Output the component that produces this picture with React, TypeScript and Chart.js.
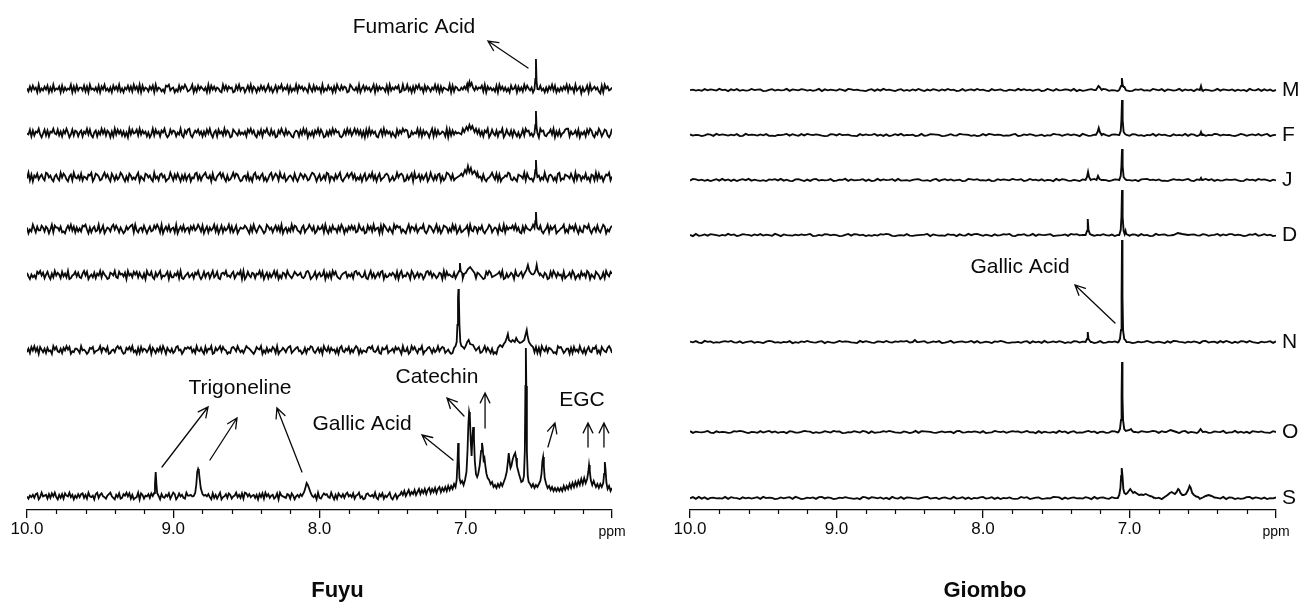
import React, { useEffect, useRef } from 'react';
import { Chart, registerables } from 'chart.js';

Chart.register(...registerables);

const FONT = '"Liberation Sans", Arial, Helvetica, sans-serif';
const INK = '#0a0a0a';

// ---------- axis ----------
const axisMin = 6;
const axisMax = 10;
const majorTickValues = [10, 9, 8, 7, 6];
const majorTickLabels = ['10.0', '9.0', '8.0', '7.0', 'ppm'];
const minorTickValues = [9.8, 9.6, 9.4, 9.2, 8.8, 8.6, 8.4, 8.2, 7.8, 7.6, 7.4, 7.2, 6.8, 6.6, 6.4, 6.2];

// ---------- Fuyu (left) ----------
const fuyuOffsets = [421, 377, 333, 281, 235, 160, 14];
const fuyuNoiseAmp = [0.95, 0.95, 0.95, 0.95, 0.9, 0.85, 0.75];
const fuyuNoise = [
  `5273 8461 9253 7481 6293 5471 8263 5491 7283 6
   6382 7194 5362 8174 9352 6184 7392 5164 8372 9
   4729 1836 5274 8193 6524 1879 3561 4283 7596 2
   3591 6284 7536 1928 4736 5219 4837 5612 8493 6
   6148 3927 5163 8472 5936 1482 7593 6481 7253 9
   2857 3641 9528 3746 1925 3846 1729 5384 7612 9
   7436 2915 8374 6259 1837 4652 8193 6475 8129 3
   4936 1728 5946 1837 5264 9381 7265 4391 8276 3
   3647 5829 1037 4658 2917 4635 2819 4736 2518 4
   5817 3629 4853 6172 9483 5162 7493 8152 6374 9
   2846 1935 7062 4819 3574 6208 1957 3460 8271 5`,
  `4381 7265 9304 8271 6594 3826 1749 5038 2761 5
   7164 9382 0571 6394 8275 0619 3847 2615 0938 4
   5829 3746 1503 9284 6175 9302 8476 1539 2074 8
   9204 7583 6162 8493 0571 8462 9375 0186 4273 5
   3618 5947 2063 8175 9428 3601 7495 2836 4105 7
   6173 9480 5261 7493 8501 6273 9485 6102 7394 8
   2594 8371 6082 9374 6105 8293 7461 5208 3749 6
   8701 6354 9281 7364 0591 8273 4651 9082 7364 5
   4392 8176 5039 4826 1759 0384 2716 5903 8427 1
   7415 0382 9672 4158 3096 7214 5839 0627 1458 9
   9163 4728 0536 1849 7205 3961 4872 0394 6518 2`,
  `3917 0648 2573 1984 6205 7319 4862 0571 9436 2
   8154 2769 0387 5126 9473 0851 6249 7305 1862 4
   2690 5318 7462 0935 1784 6023 9517 3840 6271 5
   7043 8926 1579 4360 8215 7948 3061 2594 8730 1
   5628 1407 9352 6814 0379 2586 1943 7025 6418 3
   0486 3751 2698 5047 1362 9805 4173 6920 3584 7
   9371 4260 5813 7492 6058 1347 8602 5139 4786 0
   1625 8093 4716 2580 3941 6278 0513 9862 7134 5
   6859 2174 0368 9451 7203 4695 2817 0346 5982 1
   4207 6539 1842 3075 8614 2930 6751 4089 1327 6
   5384 0927 6153 8240 7619 2835 0476 9152 3708 4`,
  `6042 9517 3386 2750 4918 6637 1205 8493 7162 5
   2879 4061 5723 9148 0365 2794 8516 3027 4689 1
   9315 6284 0472 3859 6190 4738 2561 9047 3825 6
   1748 3596 2804 7163 5927 0481 6359 2714 8036 5
   5863 0729 4158 6302 9746 1583 7290 4615 2938 7
   3206 8145 9637 0274 5819 3062 8451 7396 0527 4
   8471 2953 6018 4729 3560 8197 4263 0958 6714 2
   0592 7638 1465 9203 8741 5926 0387 6152 9480 3
   7124 5809 3276 1648 2035 9714 6508 3291 7465 8
   4936 1072 8543 5917 6482 0359 1746 8023 5691 4
   1857 3940 6218 7593 0462 8315 9704 2681 5039 7`,
  `7305 2418 6947 1583 0629 4751 8362 9014 5837 2
   1694 8035 2716 4928 5301 7649 2185 6370 9462 8
   5827 3160 9548 2073 6914 3580 7226 4819 1035 7
   2461 7593 0382 6715 9248 1067 5934 2681 4759 0
   9038 4276 1659 3804 7162 5938 0417 6295 3148 6
   4572 1389 6024 8157 3490 6271 9583 1046 7825 3
   6189 5742 3810 5926 1473 8905 2364 7518 0692 4
   3750 9614 7265 0389 5826 4137 6092 8453 2716 9
   8216 0457 5391 7642 0185 9723 4568 3901 6247 5
   0943 6821 4076 2519 8364 2750 1839 6274 5081 3
   4729 6035 1846 2970 5318 6402 7195 3860 2547 1`,
  `2618 4937 0852 6173 4095 8326 1749 5803 2664 1
   9453 0276 8134 5927 6380 1452 7968 3017 5849 2
   4071 8365 2590 7416 3829 5074 2613 8945 0376 8
   6825 1943 7308 2659 0174 6938 5402 1786 3952 4
   1597 6420 3865 9041 7253 8619 0347 5268 9135 7
   8340 2716 5983 1472 6095 3827 4516 0793 2648 1
   5269 7051 4327 8693 2481 0756 9134 6285 7409 3
   3702 9584 1659 0347 8516 2493 6871 3520 1964 7
   7186 3429 0574 6812 5937 4160 2085 9736 4358 0
   0954 8263 7146 3528 1709 5382 7641 2097 8513 6
   6071 8352 9416 0583 2769 1408 5327 9614 0852 3`,
  `4153 6278 0394 5617 2849 3062 7185 4936 0527 3
   7826 1943 5079 2684 3157 9420 6381 2759 4816 0
   2390 8615 4728 1936 5073 2648 1597 0384 6219 5
   5647 3082 9156 4730 8261 5903 4728 6145 9362 8
   1984 7356 2607 3819 4725 6138 0954 3276 1850 4
   6372 0491 8543 6092 1586 7329 4061 8537 2794 6
   3815 6924 0178 5463 9207 4815 3692 0471 5638 2
   9062 4537 1829 7348 0615 2946 7813 5029 4371 9
   0438 1759 6382 0257 8943 1675 2490 7163 8520 6
   8271 5603 3947 1826 5394 0782 6154 3098 7215 3
   2736 9148 5063 2879 1405 6392 8517 0264 3981 5`,
];
// peak groups: [ppm, height above the trace's baseline]
const fuyuPeaks: number[][][][] = [
  [
    [[7.0, 0], [6.99, 5], [6.985, 2], [6.975, 7], [6.97, 3], [6.96, 6], [6.95, 1]],
    [[6.53, 0], [6.524, 10], [6.52, 30], [6.516, 8], [6.51, 0]],
  ],
  [
    [[7.01, 1], [6.995, 6], [6.985, 3], [6.975, 8], [6.965, 4], [6.955, 7], [6.94, 1]],
    [[6.53, 0], [6.524, 8], [6.52, 22], [6.516, 6], [6.51, 0]],
  ],
  [
    [[7.02, 1], [7.005, 7], [6.995, 4], [6.985, 11], [6.975, 5], [6.965, 9], [6.955, 3], [6.94, 6], [6.925, 1]],
    [[6.53, 0], [6.524, 7], [6.52, 17], [6.516, 5], [6.51, 0]],
  ],
  [
    [[6.53, 1], [6.524, 8], [6.52, 17], [6.516, 6], [6.51, 1]],
  ],
  [
    [[7.06, 0], [7.045, 4], [7.04, 12], [7.035, 4], [7.025, 2]],
    [[7.0, 2], [6.985, 6], [6.97, 8], [6.955, 5], [6.94, 2]],
    [[6.6, 1], [6.585, 5], [6.575, 10], [6.565, 4], [6.55, 1]],
    [[6.53, 2], [6.52, 6], [6.515, 10], [6.508, 4], [6.495, 0]],
  ],
  [
    [[7.08, 2], [7.07, 4], [7.062, 8], [7.057, 25], [7.053, 52], [7.05, 61], [7.047, 52], [7.043, 25], [7.037, 8], [7.03, 4], [7.02, 3]],
    [[7.0, 4], [6.99, 8], [6.98, 10], [6.97, 6], [6.95, 5]],
    [[6.78, 2], [6.765, 5], [6.75, 3], [6.74, 6], [6.73, 8], [6.72, 12], [6.712, 16], [6.705, 10], [6.69, 8], [6.68, 10],
     [6.665, 8], [6.655, 12], [6.645, 9], [6.63, 7], [6.615, 8], [6.6, 10], [6.59, 16], [6.583, 20], [6.577, 14],
     [6.568, 8], [6.555, 5], [6.54, 3]],
  ],
  [
    [[9.14, 0], [9.13, 3], [9.125, 12], [9.12, 24], [9.115, 12], [9.11, 3], [9.1, 0]],
    [[8.86, 0], [8.85, 3], [8.842, 12], [8.836, 24], [8.83, 27], [8.825, 25], [8.82, 18], [8.812, 8], [8.8, 2]],
    [[8.12, 0], [8.105, 4], [8.095, 9], [8.088, 13], [8.08, 11], [8.072, 8], [8.06, 3], [8.05, 0]],
    [[7.45, 1], [7.44, 4], [7.43, 1], [7.42, 5], [7.41, 0], [7.4, 3], [7.39, 6], [7.38, 1], [7.37, 4], [7.36, 2],
     [7.35, 6], [7.34, 1], [7.33, 4], [7.32, 7], [7.31, 2], [7.3, 6], [7.29, 3], [7.28, 7], [7.27, 2], [7.26, 6],
     [7.25, 8], [7.24, 3], [7.23, 7], [7.22, 4], [7.21, 8], [7.2, 3], [7.19, 7], [7.18, 9], [7.17, 4], [7.16, 8],
     [7.15, 5], [7.14, 9], [7.13, 5], [7.12, 10], [7.11, 6], [7.1, 10], [7.09, 7], [7.08, 12], [7.07, 9],
     [7.062, 16], [7.056, 35], [7.052, 53], [7.048, 38], [7.043, 18], [7.035, 13], [7.025, 15], [7.015, 11],
     [7.005, 16], [6.995, 24], [6.988, 45], [6.982, 72], [6.977, 84], [6.972, 80], [6.966, 55], [6.96, 40],
     [6.954, 60], [6.949, 69], [6.944, 58], [6.938, 35], [6.93, 22], [6.922, 19], [6.915, 22], [6.905, 30],
     [6.895, 45], [6.889, 53], [6.884, 48], [6.878, 36], [6.872, 38], [6.866, 30], [6.858, 22], [6.85, 18],
     [6.84, 16], [6.83, 12], [6.82, 14], [6.81, 9], [6.8, 11], [6.79, 8], [6.78, 12], [6.77, 9], [6.76, 13],
     [6.75, 10], [6.74, 14], [6.73, 18], [6.72, 24], [6.712, 34], [6.706, 43], [6.7, 34], [6.694, 28],
     [6.688, 30], [6.68, 36], [6.672, 40], [6.662, 43], [6.656, 38], [6.65, 30], [6.643, 26], [6.636, 22],
     [6.628, 18], [6.62, 14], [6.61, 15], [6.602, 20], [6.596, 45], [6.592, 110], [6.589, 148], [6.586, 110],
     [6.582, 45], [6.576, 20], [6.57, 14], [6.56, 12], [6.55, 9], [6.54, 12], [6.53, 8], [6.52, 11], [6.51, 9],
     [6.5, 12], [6.49, 15], [6.482, 22], [6.476, 35], [6.471, 39], [6.466, 30], [6.46, 18], [6.45, 12],
     [6.44, 8], [6.43, 10], [6.42, 6], [6.41, 9], [6.4, 5], [6.39, 8], [6.38, 5], [6.37, 8], [6.36, 5], [6.35, 8],
     [6.34, 5], [6.33, 10], [6.32, 6], [6.31, 10], [6.3, 7], [6.29, 12], [6.28, 8], [6.27, 13], [6.26, 9],
     [6.25, 14], [6.24, 10], [6.23, 15], [6.22, 11], [6.21, 17], [6.2, 12], [6.19, 18], [6.18, 13], [6.17, 17],
     [6.162, 24], [6.157, 31], [6.152, 25], [6.145, 16], [6.135, 11], [6.125, 15], [6.118, 12], [6.11, 9],
     [6.1, 12], [6.09, 8], [6.08, 12], [6.07, 9], [6.06, 13], [6.054, 22], [6.049, 34], [6.044, 26],
     [6.038, 13], [6.03, 7], [6.02, 10], [6.01, 5], [6.0, 8]],
  ],
];
const fuyuTexts = [
  { text: 'Fumaric Acid', ppm: 7.354, h: 483 },
  { text: 'Trigoneline', ppm: 8.544, h: 122 },
  { text: 'Gallic Acid', ppm: 7.709, h: 86 },
  { text: 'Catechin', ppm: 7.197, h: 133 },
  { text: 'EGC', ppm: 6.205, h: 110 },
];
// arrows: [tailPpm, tailH, headPpm, headH]
const fuyuArrows = [
  [6.574, 442, 6.848, 469],
  [9.077, 43, 8.762, 103],
  [8.749, 50, 8.564, 92],
  [8.12, 38, 8.291, 102],
  [7.087, 50, 7.299, 75],
  [7.012, 94, 7.128, 112],
  [6.868, 82, 6.868, 117],
  [6.438, 63, 6.39, 87],
  [6.164, 63, 6.164, 87],
  [6.055, 63, 6.055, 87],
];

// ---------- Giombo (right) ----------
const giomboLabels = ['M', 'F', 'J', 'D', 'N', 'O', 'S'];
const giomboOffsets = [420, 375, 330, 275, 168, 78, 12];
const giomboNoiseAmp = [0.24, 0.24, 0.24, 0.24, 0.24, 0.24, 0.24];
const giomboNoise = [
  `4625 1837 5294 6073 8152 3946 7015 8263 4917 5
   3862 5149 0736 4285 1974 6320 5817 2946 3058 1
   5173 9406 2851 7394 6028 1573 9462 0835 7216 4
   2948 3615 7029 5183 4762 9051 3684 2597 1430 8
   6301 7582 4196 3807 5249 1736 0852 6413 9275 3
   7162 5094 3817 2605 4938 1`,
  `7254 0386 1947 5263 8019 4652 7381 2054 6928 4
   1839 6475 2018 7394 5621 0837 4592 6170 3849 2
   5460 2913 8765 0148 3297 6514 0283 9746 5132 6
   9027 4851 3604 2976 1583 7409 5126 3894 0675 1
   3618 7240 5391 8462 0735 2918 6047 1539 8264 5
   2049 6157 3826 9045 1738 6`,
  `2973 6150 4829 3716 0584 9263 1407 5839 2610 7
   8406 1792 5348 0265 9173 4581 6029 3745 8192 3
   4157 8324 0691 5837 2460 1975 8342 6018 4753 9
   6580 3946 2715 4093 8621 5307 4169 2854 0376 1
   1342 5078 9463 7120 4856 3692 0715 9481 6237 5
   5730 1846 2957 4063 8214 9`,
  `5091 3728 6415 2947 0386 5173 8264 1950 7432 6
   3746 9015 2873 6401 5928 7360 4152 8697 1034 2
   8213 4569 0742 3185 6073 2948 9516 3072 4869 1
   0658 2391 7546 8023 4719 6835 0271 5384 2605 7
   4927 6183 5019 4672 3851 0496 7328 6145 9273 8
   8364 0275 9148 3602 5917 4`,
  `6382 0957 1426 8593 2704 6815 3069 7241 5380 4
   1749 5326 8063 1495 7632 0948 5217 6394 2758 6
   9205 4681 3748 0259 1467 3592 8136 4075 9621 3
   3516 8073 6192 4738 5041 8726 1950 3812 6473 0
   7840 2635 9514 6307 2985 4163 7408 9256 1839 5
   0518 7394 2063 5817 4296 2`,
  `8164 3592 0735 4128 6973 0541 8269 3714 5086 2
   2597 6041 3852 9670 1438 5296 0713 4859 6321 7
   4039 1876 5214 7356 0892 3647 5180 2396 4715 8
   6725 9340 8163 2519 4705 8132 6947 0561 2873 4
   0371 5286 4697 1843 5260 7915 3084 6127 5490 3
   3926 1508 6473 2184 0659 7`,
  `3819 2705 6342 9185 4073 6258 1946 5027 3681 9
   5026 4718 9375 0264 8531 4097 2863 7150 9428 1
   7643 1589 2460 5731 9248 1605 3792 4816 0537 2
   1295 8036 7124 3987 0615 7342 8509 2673 1849 6
   9458 6370 1583 6042 7396 2851 4017 8364 5290 7
   6041 3892 7516 0437 2968 5`,
];
const giomboPeaks: number[][][][] = [
  [
    [[7.23, 0], [7.22, 2], [7.212, 4], [7.205, 3], [7.19, 0]],
    [[7.07, 0], [7.058, 4], [7.052, 12], [7.047, 5], [7.04, 3], [7.035, 3], [7.025, 0]],
    [[6.52, 0], [6.512, 4], [6.505, 0]],
  ],
  [
    [[7.23, 0], [7.218, 3], [7.21, 7], [7.202, 3], [7.19, 0]],
    [[7.07, 0], [7.06, 4], [7.055, 15], [7.051, 35], [7.047, 15], [7.04, 3], [7.03, 1], [7.02, 0]],
    [[6.52, 0], [6.512, 3], [6.505, 0]],
  ],
  [
    [[7.3, 0], [7.29, 3], [7.283, 8], [7.276, 3], [7.265, 0]],
    [[7.225, 0], [7.215, 4], [7.205, 1], [7.19, 0]],
    [[7.07, 0], [7.06, 4], [7.055, 14], [7.051, 31], [7.047, 14], [7.04, 3], [7.03, 1], [7.02, 0]],
    [[6.52, 0], [6.512, 2], [6.505, 0]],
  ],
  [
    [[7.3, 0], [7.29, 4], [7.285, 16], [7.28, 5], [7.27, 1], [7.255, 0]],
    [[7.07, 0], [7.06, 5], [7.055, 18], [7.051, 45], [7.047, 18], [7.04, 4], [7.033, 1], [7.027, 4], [7.022, 1], [7.01, 0]],
    [[6.7, 0], [6.67, 2], [6.64, 1], [6.6, 0]],
  ],
  [
    [[8.48, 0], [8.465, 2], [8.45, 0]],
    [[7.3, 0], [7.29, 3], [7.285, 10], [7.28, 3], [7.265, 0]],
    [[7.075, 0], [7.065, 3], [7.058, 12], [7.054, 45], [7.051, 102], [7.048, 45], [7.044, 12], [7.036, 3], [7.028, 2], [7.02, 0]],
  ],
  [
    [[7.075, 0], [7.065, 3], [7.058, 12], [7.054, 35], [7.051, 70], [7.048, 35], [7.044, 12], [7.036, 3], [7.025, 1],
     [7.0, 2], [6.99, 3], [6.98, 1], [6.97, 0]],
    [[6.75, 0], [6.72, 2], [6.7, 1], [6.68, 0]],
    [[6.53, 0], [6.515, 3], [6.5, 0]],
  ],
  [
    [[7.08, 0], [7.07, 3], [7.062, 10], [7.057, 22], [7.053, 30], [7.048, 22], [7.042, 9], [7.035, 5], [7.025, 4],
     [7.015, 5], [7.005, 7], [6.995, 9], [6.985, 7], [6.975, 5], [6.965, 6], [6.955, 5], [6.945, 4], [6.935, 3],
     [6.92, 3.5], [6.905, 3], [6.89, 4], [6.875, 3], [6.86, 2], [6.845, 1.5]],
    [[6.76, 1], [6.74, 3], [6.725, 5], [6.712, 6], [6.702, 5], [6.69, 4], [6.678, 6], [6.668, 9], [6.66, 8],
     [6.652, 5], [6.64, 3], [6.63, 3], [6.615, 4], [6.6, 8], [6.59, 12], [6.582, 10], [6.572, 5], [6.56, 3],
     [6.545, 1.5], [6.53, 1]],
    [[6.5, 0.5], [6.48, 2], [6.46, 3], [6.44, 2], [6.42, 0.5]],
  ],
];
const giomboTexts = [{ text: 'Gallic Acid', ppm: 7.747, h: 243 }];
const giomboArrows = [[7.099, 187, 7.372, 225]];

// ---------- building traces ----------
type Pt = { x: number; y: number };

function buildTrace(noiseText: string, step: number, amp: number, offset: number, groups: number[][][]): Pt[] {
  const noise = noiseText.replace(/\s+/g, '');
  const ranges = groups.map((g) => {
    const xs = g.map((p) => p[0]);
    return [Math.min(...xs), Math.max(...xs)];
  });
  const pts: Pt[] = [];
  const n = Math.round((axisMax - axisMin) / step);
  for (let i = 0; i <= n; i++) {
    const x = Math.round((axisMax - i * step) * 10000) / 10000;
    if (ranges.some((r) => x >= r[0] - 1e-9 && x <= r[1] + 1e-9)) continue;
    const c = noise[i];
    const d = c === undefined ? 4.5 : Number(c);
    pts.push({ x, y: offset + (d - 4.5) * amp });
  }
  groups.forEach((g) => g.forEach((p) => pts.push({ x: p[0], y: offset + p[1] })));
  pts.sort((a, b) => b.x - a.x);
  return pts;
}

type PanelCfg = {
  title: string;
  titleShift: number;
  noises: string[];
  amps: number[];
  offsets: number[];
  peaks: number[][][][];
  step: number;
  lineWidth: number;
  padLeft: number;
  padRight: number;
  texts: { text: string; ppm: number; h: number }[];
  arrows: number[][];
  sideLabels: string[];
};

function drawArrow(ctx: CanvasRenderingContext2D, x1: number, y1: number, x2: number, y2: number) {
  const ang = Math.atan2(y2 - y1, x2 - x1);
  const len = 11;
  const spread = 0.45;
  ctx.beginPath();
  ctx.moveTo(x1, y1);
  ctx.lineTo(x2, y2);
  ctx.moveTo(x2 - len * Math.cos(ang - spread), y2 - len * Math.sin(ang - spread));
  ctx.lineTo(x2, y2);
  ctx.lineTo(x2 - len * Math.cos(ang + spread), y2 - len * Math.sin(ang + spread));
  ctx.stroke();
}

const CANVAS_H = 603;
const PLOT_TOP = 10;
const PLOT_BOTTOM = 510;
const TITLE_SIZE = 22;
const TITLE_Y = 591;

function makeOverlay(cfg: PanelCfg) {
  return {
    id: 'overlay' + cfg.title,
    afterDraw(chart: any) {
      const { ctx, chartArea } = chart;
      const xs = chart.scales.x;
      const ys = chart.scales.y;
      ctx.save();
      ctx.strokeStyle = INK;
      ctx.fillStyle = INK;
      ctx.lineWidth = 1.2;
      minorTickValues.forEach((v) => {
        const px = Math.round(xs.getPixelForValue(v)) + 0.5;
        ctx.beginPath();
        ctx.moveTo(px, chartArea.bottom);
        ctx.lineTo(px, chartArea.bottom + 4);
        ctx.stroke();
      });
      ctx.lineWidth = 1.3;
      ctx.lineCap = 'round';
      cfg.arrows.forEach((a) => {
        drawArrow(ctx, xs.getPixelForValue(a[0]), ys.getPixelForValue(a[1]), xs.getPixelForValue(a[2]), ys.getPixelForValue(a[3]));
      });
      ctx.font = `21px ${FONT}`;
      ctx.textBaseline = 'middle';
      ctx.textAlign = 'center';
      cfg.texts.forEach((t) => ctx.fillText(t.text, xs.getPixelForValue(t.ppm), ys.getPixelForValue(t.h)));
      ctx.textAlign = 'left';
      cfg.sideLabels.forEach((s, i) => ctx.fillText(s, chartArea.right + 6, ys.getPixelForValue(cfg.offsets[i])));
      ctx.textAlign = 'center';
      ctx.font = `bold ${TITLE_SIZE}px ${FONT}`;
      ctx.fillText(cfg.title, (chartArea.left + chartArea.right) / 2 + cfg.titleShift, TITLE_Y);
      ctx.restore();
    },
  };
}

function makeChart(canvas: HTMLCanvasElement, cfg: PanelCfg) {
  const datasets = cfg.noises.map((nz, i) => ({
    data: buildTrace(nz, cfg.step, cfg.amps[i], cfg.offsets[i], cfg.peaks[i]),
    borderColor: INK,
    borderWidth: cfg.lineWidth,
    pointRadius: 0,
    fill: false,
    tension: 0,
    borderJoinStyle: 'miter',
  }));
  const axisH = CANVAS_H - PLOT_BOTTOM;
  return new Chart(canvas, {
    type: 'line',
    data: { datasets },
    plugins: [makeOverlay(cfg)],
    options: {
      responsive: false,
      animation: false,
      devicePixelRatio: 1,
      events: [],
      layout: { padding: { left: cfg.padLeft, right: cfg.padRight, top: PLOT_TOP, bottom: 0 } },
      plugins: {
        legend: { display: false },
        tooltip: { enabled: false },
        title: { display: false },
      },
      scales: {
        x: {
          type: 'linear',
          min: axisMin,
          max: axisMax,
          reverse: true,
          afterBuildTicks: (scale: any) => {
            scale.ticks = majorTickValues.map((value) => ({ value }));
          },
          afterFit: (scale: any) => {
            scale.height = axisH;
          },
          ticks: {
            autoSkip: false,
            maxRotation: 0,
            padding: 1,
            color: INK,
            callback: (value: any) => {
              const i = majorTickValues.indexOf(Number(value));
              return i >= 0 ? majorTickLabels[i] : '';
            },
            font: (c: any) =>
              c.tick && c.tick.value === 6
                ? { family: FONT, size: 14, lineHeight: 1.85 }
                : { family: FONT, size: 17 },
          },
          grid: { drawOnChartArea: false, drawTicks: true, tickLength: 8, color: INK, lineWidth: 1.3 },
          border: { display: true, color: INK, width: 1.3 },
        },
        y: { type: 'linear', display: false, min: 0, max: PLOT_BOTTOM - PLOT_TOP },
      },
    } as any,
  });
}

const fuyuCfg: PanelCfg = {
  title: 'Fuyu',
  titleShift: 18,
  noises: fuyuNoise,
  amps: fuyuNoiseAmp,
  offsets: fuyuOffsets,
  peaks: fuyuPeaks,
  step: 0.01,
  lineWidth: 1.8,
  padLeft: 27,
  padRight: 38,
  texts: fuyuTexts,
  arrows: fuyuArrows,
  sideLabels: [],
};

const giomboCfg: PanelCfg = {
  title: 'Giombo',
  titleShift: 2,
  noises: giomboNoise,
  amps: giomboNoiseAmp,
  offsets: giomboOffsets,
  peaks: giomboPeaks,
  step: 0.02,
  lineWidth: 1.9,
  padLeft: 40,
  padRight: 23,
  texts: giomboTexts,
  arrows: giomboArrows,
  sideLabels: giomboLabels,
};

export default function App() {
  const leftRef = useRef<HTMLCanvasElement>(null);
  const rightRef = useRef<HTMLCanvasElement>(null);
  useEffect(() => {
    const c1 = makeChart(leftRef.current as HTMLCanvasElement, fuyuCfg);
    const c2 = makeChart(rightRef.current as HTMLCanvasElement, giomboCfg);
    return () => {
      c1.destroy();
      c2.destroy();
    };
  }, []);
  return (
    <div style={{ position: 'absolute', left: 0, top: 0, width: 1299, height: 603, background: '#fff' }}>
      <canvas ref={leftRef} width={650} height={603} style={{ position: 'absolute', left: 0, top: 0, width: 650, height: 603 }} />
      <canvas ref={rightRef} width={649} height={603} style={{ position: 'absolute', left: 650, top: 0, width: 649, height: 603 }} />
    </div>
  );
}
